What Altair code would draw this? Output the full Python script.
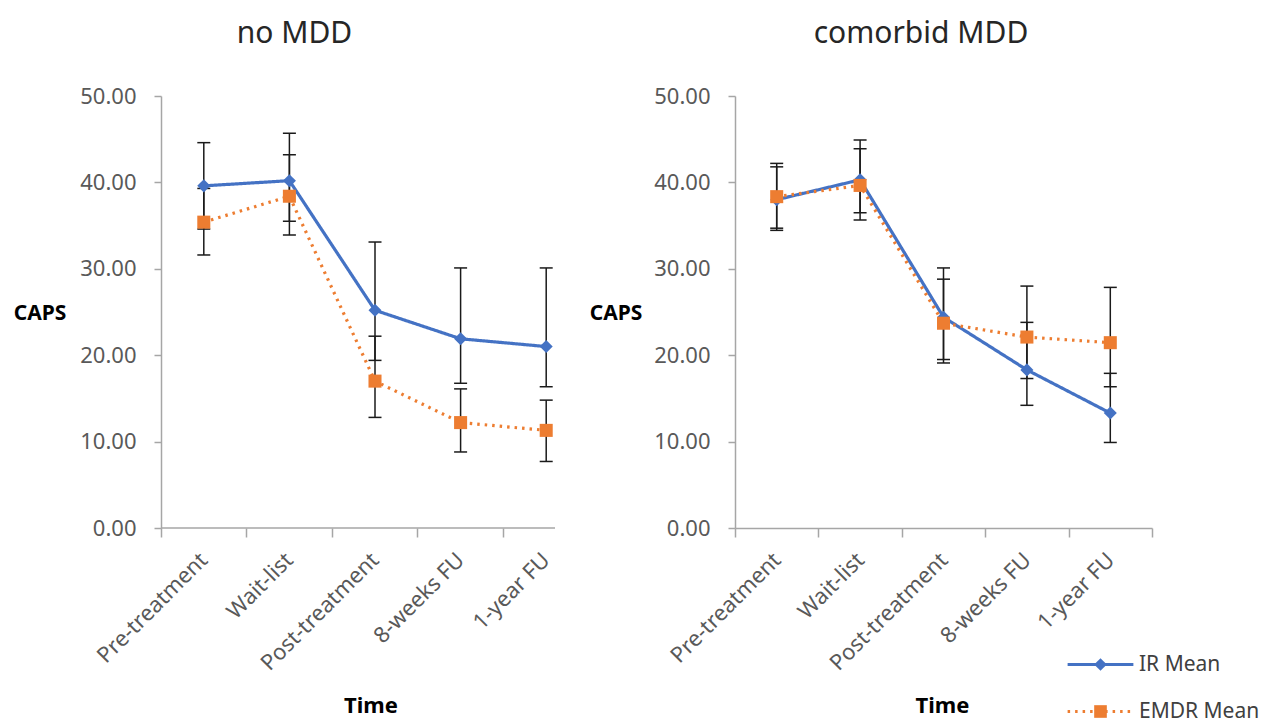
import altair as alt
import pandas as pd

FONT = "Noto Sans"

times = ["Pre-treatment", "Wait-list", "Post-treatment", "8-weeks FU", "1-year FU"]
groups = ["IR Mean", "EMDR Mean"]
markers = ["IR", "EMDR"]
y_ticks = [0, 10, 20, 30, 40, 50]

# no MDD
nomdd_ir_mean = [39.6, 40.2, 25.2, 21.9, 21.0]
nomdd_ir_lo = [34.6, 35.5, 19.4, 16.75, 16.35]
nomdd_ir_hi = [44.6, 45.7, 33.1, 30.1, 30.1]
nomdd_emdr_mean = [35.4, 38.4, 17.0, 12.2, 11.3]
nomdd_emdr_lo = [31.6, 33.9, 12.8, 8.8, 7.7]
nomdd_emdr_hi = [39.3, 43.2, 22.2, 16.1, 14.8]

# comorbid MDD
mdd_ir_mean = [38.0, 40.3, 24.4, 18.3, 13.3]
mdd_ir_lo = [34.45, 35.65, 19.1, 14.2, 9.9]
mdd_ir_hi = [41.8, 44.9, 30.1, 23.8, 17.9]
mdd_emdr_mean = [38.35, 39.65, 23.7, 22.1, 21.45]
mdd_emdr_lo = [34.7, 36.5, 19.5, 17.3, 16.35]
mdd_emdr_hi = [42.2, 43.9, 28.8, 28.0, 27.85]

colors = ["#4472C4", "#ED7D31"]
AXIS_GRAY = "#a6a6a6"
LABEL_GRAY = "#595959"
DASHES = [[1, 0], [2.5, 5]]


def build_df(ir_mean, ir_lo, ir_hi, em_mean, em_lo, em_hi):
    rows = []
    for i, t in enumerate(times):
        rows.append(dict(time=t, group=groups[0], marker=markers[0],
                         mean=ir_mean[i], lo=ir_lo[i], hi=ir_hi[i]))
        rows.append(dict(time=t, group=groups[1], marker=markers[1],
                         mean=em_mean[i], lo=em_lo[i], hi=em_hi[i]))
    return pd.DataFrame(rows)


LEG_COMMON = dict(
    orient="none", legendX=355, legendY=558, title=None, padding=0,
    labelFont=FONT, labelFontSize=21, labelColor="#404040",
    symbolSize=160, labelOffset=28, rowPadding=25,
)
line_legend = alt.Legend(symbolType="M-5.2,0H5.2", symbolStrokeWidth=3, **LEG_COMMON)
marker_legend = alt.Legend(labelOpacity=0, symbolStrokeWidth=0, zindex=1, **LEG_COMMON)


def make_panel(df, title, title_dx, width, xrange, left_panel, caps_x):
    xscale = alt.Scale(type="band", domain=times, range=xrange, paddingInner=0, paddingOuter=0)
    common_x = dict(
        labelAngle=-45, labelFont=FONT, labelFontSize=22, labelColor=LABEL_GRAY,
        ticks=True, tickColor=AXIS_GRAY, tickSize=9, tickWidth=1.5,
        labelPadding=12, labelOffset=-7,
        title="Time", titleFont=FONT, titleFontSize=22, titleFontWeight="bold",
        titleColor="black", titleY=177, titleBaseline="middle", titleAlign="center", grid=False,
    )
    if left_panel:
        x_axis = alt.Axis(domain=False, bandPosition=0, tickExtra=False, titleX=209.5, **common_x)
    else:
        x_axis = alt.Axis(domain=True, domainColor=AXIS_GRAY, domainWidth=1.5,
                          tickBand="extent", titleX=207, **common_x)
    y_axis = alt.Axis(
        values=y_ticks, format=".2f", labelFont=FONT, labelFontSize=22, labelColor=LABEL_GRAY,
        domainColor=AXIS_GRAY, domainWidth=1.5, tickColor=AXIS_GRAY, tickSize=7, tickWidth=1.5,
        labelPadding=18, grid=False,
        title="CAPS", titleAngle=0, titleX=caps_x, titleY=217, titleFont=FONT, titleFontSize=21,
        titleFontWeight="bold", titleColor="black", titleBaseline="middle", titleAlign="center",
    )
    x = alt.X("time:N", sort=times, scale=xscale, axis=x_axis)
    yscale = alt.Scale(domain=[0, 50])
    base = alt.Chart(df)
    lines = base.mark_line(strokeWidth=3.2).encode(
        x=x,
        y=alt.Y("mean:Q", scale=yscale, axis=y_axis),
        color=alt.Color("group:N", scale=alt.Scale(domain=groups, range=colors),
                        legend=None if left_panel else line_legend),
        strokeDash=alt.StrokeDash("group:N", scale=alt.Scale(domain=groups, range=DASHES),
                                  legend=None if left_panel else line_legend),
    )
    bars = base.mark_rule(color="#1a1a1a", strokeWidth=1.5).encode(
        x=x, y=alt.Y("lo:Q", scale=yscale), y2="hi:Q"
    )
    caps_lo = base.mark_tick(color="#1a1a1a", thickness=1.5, size=13, opacity=1).encode(
        x=x, y=alt.Y("lo:Q", scale=yscale)
    )
    caps_hi = base.mark_tick(color="#1a1a1a", thickness=1.5, size=13, opacity=1).encode(
        x=x, y=alt.Y("hi:Q", scale=yscale)
    )
    points = base.mark_point(filled=True, size=170, opacity=1, strokeWidth=0).encode(
        x=x,
        y=alt.Y("mean:Q", scale=yscale),
        fill=alt.Fill("marker:N", scale=alt.Scale(domain=markers, range=colors),
                      legend=None if left_panel else marker_legend),
        shape=alt.Shape("marker:N", scale=alt.Scale(domain=markers, range=["diamond", "square"]),
                        legend=None if left_panel else marker_legend),
    )
    layers = [lines, bars, caps_lo, caps_hi, points]
    if left_panel:
        axis_line = alt.Chart(pd.DataFrame({"v": [0]})).mark_rule(
            color=AXIS_GRAY, strokeWidth=1.5
        ).encode(y=alt.Y("v:Q", scale=yscale), x=alt.value(0), x2=alt.value(width))
        layers = [axis_line] + layers
    return alt.layer(*layers).properties(
        width=width,
        height=432,
        title=alt.TitleParams(
            text=title, font=FONT, fontSize=30, fontWeight="normal", color="#262626",
            anchor="middle", frame="group", dx=title_dx, baseline="alphabetic", offset=12.5,
        ),
    )


left = make_panel(build_df(nomdd_ir_mean, nomdd_ir_lo, nomdd_ir_hi,
                           nomdd_emdr_mean, nomdd_emdr_lo, nomdd_emdr_hi),
                  "no MDD", -63.5, 394, [0, 428], True, -121.5)
right = make_panel(build_df(mdd_ir_mean, mdd_ir_lo, mdd_ir_hi,
                            mdd_emdr_mean, mdd_emdr_lo, mdd_emdr_hi),
                   "comorbid MDD", -22.5, 417, [0, 417], False, -119.5)

chart = (
    alt.hconcat(left, right, spacing=0)
    .resolve_scale(x="independent", y="independent", color="independent",
                   fill="independent", shape="independent", strokeDash="independent")
    .resolve_legend(color="independent", fill="independent", shape="independent",
                    strokeDash="independent")
    .properties(padding={"left": 5, "top": 10, "right": 0, "bottom": 0})
    .configure_view(stroke=None)
)

chart.save("out.html", embed_options={"renderer": "svg", "actions": False})
